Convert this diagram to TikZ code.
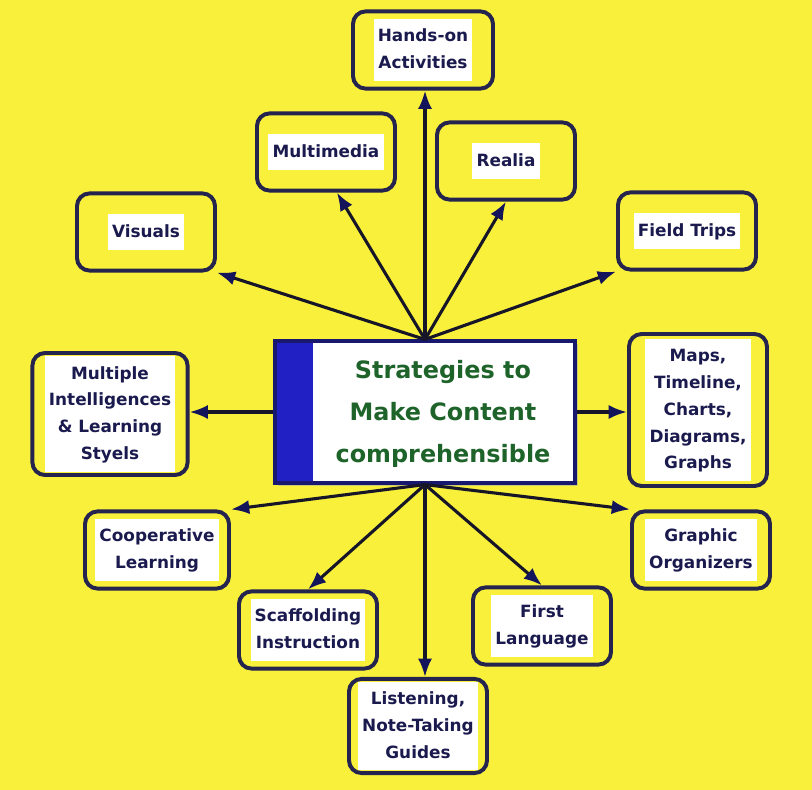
\documentclass[tikz,border=0pt]{standalone}
\usepackage{fontspec}
\setmainfont{DejaVu Sans}
\usepackage{tikz}
\usetikzlibrary{arrows.meta,shadows}

\definecolor{bgyellow}{RGB}{248,240,58}
\definecolor{boxnavy}{RGB}{36,36,78}
\definecolor{inknavy}{RGB}{26,26,78}
\definecolor{framenavy}{RGB}{24,24,110}
\definecolor{barblue}{RGB}{32,32,196}
\definecolor{titlegreen}{RGB}{30,100,42}
\definecolor{spokeink}{RGB}{22,22,40}
\definecolor{tipnavy}{RGB}{20,20,90}

\setlength{\fboxsep}{3pt}
\newcommand{\wtext}[1]{\colorbox{white}{\begin{tabular}{@{}c@{}}#1\end{tabular}}}

\begin{document}
\begin{tikzpicture}[
  x=0.025cm, y=-0.025cm,
  topic/.style={rectangle, draw=boxnavy, line width=2.8pt, rounded corners=9pt,
    fill=bgyellow, inner sep=2pt, minimum width=3.45cm, minimum height=1.93cm,
    text=inknavy, font=\fontsize{12}{19}\selectfont\bfseries},
  mainbox/.style={rectangle, draw=framenavy, line width=2.2pt, fill=white,
    minimum width=7.5cm, minimum height=3.55cm,
    drop shadow={shadow xshift=2pt, shadow yshift=-2pt, fill=black!35},
    path picture={\fill[barblue] (path picture bounding box.north west)
      rectangle ([xshift=0.95cm]path picture bounding box.south west);}},
  titletext/.style={align=center, text=titlegreen,
    font=\fontsize{17}{30}\selectfont\bfseries},
  spoke/.style={draw=spokeink, line width=2.2pt,
    -{Latex[length=13pt,width=10pt,color=tipnavy]}}
]
  \fill[bgyellow] (0,0) rectangle (812,790);

  \node[mainbox] (main) at (425,412) {};
  \node[titletext] (title) at (443,414)
    {Strategies to\\Make Content\\comprehensible};

  \node[topic, minimum width=3.5cm] (hands) at (423,50) {\wtext{Hands-on\\Activities}};
  \node[topic] (media) at (326,152) {\wtext{Multimedia}};
  \node[topic] (realia) at (506,161) {\wtext{Realia}};
  \node[topic] (visuals) at (146,232) {\wtext{Visuals}};
  \node[topic] (field) at (687,231) {\wtext{Field Trips}};
  \node[topic, minimum width=3.88cm, minimum height=3.05cm] (mi) at (110,414)
    {\wtext{Multiple\\Intelligences\\\& Learning\\Styels}};
  \node[topic, minimum height=3.8cm] (maps) at (698,410)
    {\wtext{Maps,\\Timeline,\\Charts,\\Diagrams,\\Graphs}};
  \node[topic, minimum width=3.6cm] (coop) at (157,550) {\wtext{Cooperative\\Learning}};
  \node[topic] (graphic) at (701,550) {\wtext{Graphic\\Organizers}};
  \node[topic] (scaff) at (308,630) {\wtext{Scaffolding\\Instruction}};
  \node[topic] (first) at (542,626) {\wtext{First\\Language}};
  \node[topic, minimum height=2.28cm] (listen) at (418,726)
    {\wtext{Listening,\\Note-Taking\\Guides}};

  \draw[spoke] (main.north) -- (main.north |- hands.south);
  \draw[spoke] (main.north) -- (media.-75);
  \draw[spoke] (main.north) -- (realia.south);
  \draw[spoke] (main.north) -- (visuals.south east);
  \draw[spoke] (main.north) -- (field.south west);
  \draw[spoke] (main.west) -- (main.west -| mi.east);
  \draw[spoke] (main.east) -- (main.east -| maps.west);
  \draw[spoke] (main.south) -- (coop.north east);
  \draw[spoke] (main.south) -- (graphic.north west);
  \draw[spoke] (main.south) -- (scaff.north);
  \draw[spoke] (main.south) -- (first.north);
  \draw[spoke] (main.south) -- (main.south |- listen.north);
\end{tikzpicture}
\end{document}
